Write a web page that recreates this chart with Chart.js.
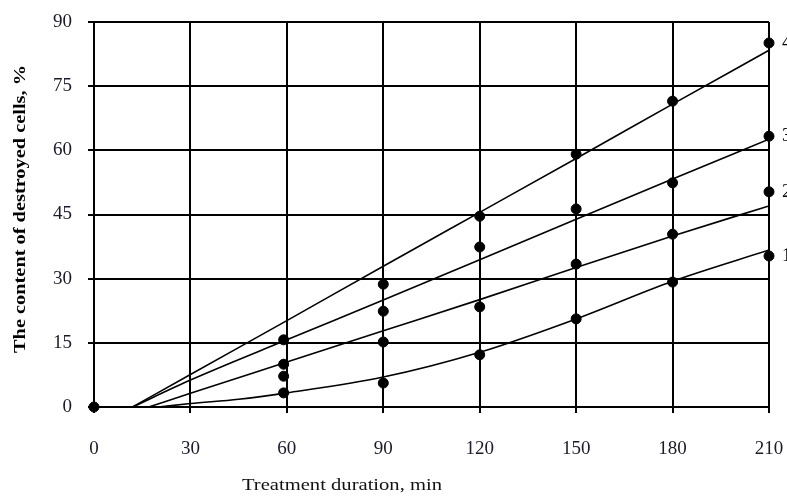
<!DOCTYPE html>
<html>
<head>
<meta charset="utf-8">
<script src="https://cdn.jsdelivr.net/npm/chart.js@4"></script>
<style>
  html, body { margin: 0; padding: 0; background: #fff; }
  #wrap { width: 787px; height: 498px; position: relative; }
</style>
</head>
<body>
<div id="wrap"><canvas id="myChart"></canvas></div>
<script>
// measured points (treatment time, min)
var pointTimes = [59, 90, 120, 150, 180, 210];
var measured1 = [3.3, 5.6, 12.2, 20.6, 29.2, 35.3];
var measured2 = [7.2, 15.2, 23.4, 33.4, 40.4, 50.3];
var measured3 = [10.0, 22.4, 37.4, 46.3, 52.4, 63.3];
var measured4 = [15.7, 28.7, 44.6, 59.1, 71.5, 85.1];
var startPoint = [0, 0];

// fitted curves
var fitTimes1 = [20, 30, 45, 60, 90, 120, 150, 180, 210];
var fit1 = [0, 0.8, 1.8, 3.3, 7.0, 12.8, 20.6, 29.4, 36.7];
var fitTimes2 = [17, 30, 60, 90, 120, 150, 180, 210];
var fit2 = [0, 3.2, 10.5, 17.8, 25.1, 32.6, 40.0, 47.0];
var fitTimes3 = [12, 30, 60, 90, 120, 150, 180, 210];
var fit3 = [0, 6.3, 15.7, 25.0, 34.4, 43.9, 53.3, 62.6];
var fitTimes4 = [12, 30, 60, 90, 120, 150, 180, 210];
var fit4 = [0, 7.6, 20.2, 32.9, 45.5, 58.1, 70.8, 83.4];

var curveLabels = ["1", "2", "3", "4"];
var xTicks = [0, 30, 60, 90, 120, 150, 180, 210];
var yTicks = [0, 15, 30, 45, 60, 75, 90];

var serif = "'Liberation Serif', 'Times New Roman', serif";

function toXY(xs, ys) {
    let out = [];
    for (let i = 0; i < xs.length; i++) {
        out.push({ x: xs[i], y: ys[i] });
    }
    return out;
}

function fitLine(xs, ys) {
    return {
        type: "line",
        data: toXY(xs, ys),
        borderColor: "#000",
        borderWidth: 1.6,
        pointRadius: 0,
        tension: 0.2,
        cubicInterpolationMode: "monotone",
        fill: false
    };
}

function dots(xs, ys) {
    return {
        type: "scatter",
        data: toXY(xs, ys),
        backgroundColor: "#000",
        borderColor: "#000",
        pointRadius: 5,
        clip: false
    };
}

var allMeasured = [measured1, measured2, measured3, measured4];

// draws text stretched to a given width
function stretchText(ctx, text, cx, cy, width) {
    let w = ctx.measureText(text).width;
    ctx.save();
    ctx.translate(cx, cy);
    ctx.scale(width / w, 1);
    ctx.fillText(text, 0, 0);
    ctx.restore();
}

// axis titles and curve numbers
var textPlugin = {
    id: "textPlugin",
    afterDraw(chart) {
        let ctx = chart.ctx;
        let xs = chart.scales.x;
        let ys = chart.scales.y;
        ctx.save();
        ctx.fillStyle = "#000";
        ctx.font = "19px " + serif;
        ctx.textAlign = "left";
        ctx.textBaseline = "middle";
        let lastX = xs.getPixelForValue(pointTimes[pointTimes.length - 1]);
        for (let i = 0; i < curveLabels.length; i++) {
            let v = allMeasured[i][allMeasured[i].length - 1];
            ctx.fillText(curveLabels[i], lastX + 13, ys.getPixelForValue(v));
        }
        ctx.textAlign = "center";
        ctx.font = "17px " + serif;
        ctx.fillStyle = "#111";
        stretchText(ctx, "Treatment duration, min", 342, 486, 200);
        ctx.translate(21, 209);
        ctx.rotate(-Math.PI / 2);
        ctx.font = "bold 17px " + serif;
        ctx.fillStyle = "#000";
        stretchText(ctx, "The content of destroyed cells, %", 0, 0, 288);
        ctx.restore();
    }
};

var datasets = [
    fitLine(fitTimes1, fit1),
    fitLine(fitTimes2, fit2),
    fitLine(fitTimes3, fit3),
    fitLine(fitTimes4, fit4),
    dots(pointTimes, measured1),
    dots(pointTimes, measured2),
    dots(pointTimes, measured3),
    dots(pointTimes, measured4),
    dots([startPoint[0]], [startPoint[1]])
];

var config = {
    type: "scatter",
    data: { datasets: datasets },
    options: {
        responsive: true,
        maintainAspectRatio: false,
        animation: false,
        layout: { padding: { top: 22, right: 0, left: 0, bottom: 0 } },
        plugins: {
            legend: { display: false },
            tooltip: { enabled: false }
        },
        scales: {
            x: {
                type: "linear",
                min: 0,
                max: 210,
                afterBuildTicks: function(axis) {
                    axis.ticks = xTicks.map(v => ({ value: v }));
                },
                afterFit: function(axis) {
                    axis.height = 91;
                    axis.paddingLeft = 0;
                    axis.paddingRight = 18;
                },
                grid: { color: "#000", lineWidth: 2, tickLength: 6 },
                border: { color: "#000", width: 2 },
                ticks: {
                    color: "#1a1a2a",
                    font: { family: serif, size: 19 },
                    padding: 25,
                    maxRotation: 0
                }
            },
            y: {
                type: "linear",
                min: 0,
                max: 90,
                afterBuildTicks: function(axis) {
                    axis.ticks = yTicks.map(v => ({ value: v }));
                },
                afterFit: function(axis) {
                    axis.width = 94;
                    axis.paddingTop = 0;
                    axis.paddingBottom = 0;
                },
                grid: { color: "#000", lineWidth: 2, tickLength: 6 },
                border: { color: "#000", width: 2 },
                ticks: {
                    color: "#1a1a2a",
                    font: { family: serif, size: 19 },
                    padding: 16
                }
            }
        }
    },
    plugins: [textPlugin]
};

var myChart = new Chart(document.getElementById("myChart"), config);
</script>
</body>
</html>
